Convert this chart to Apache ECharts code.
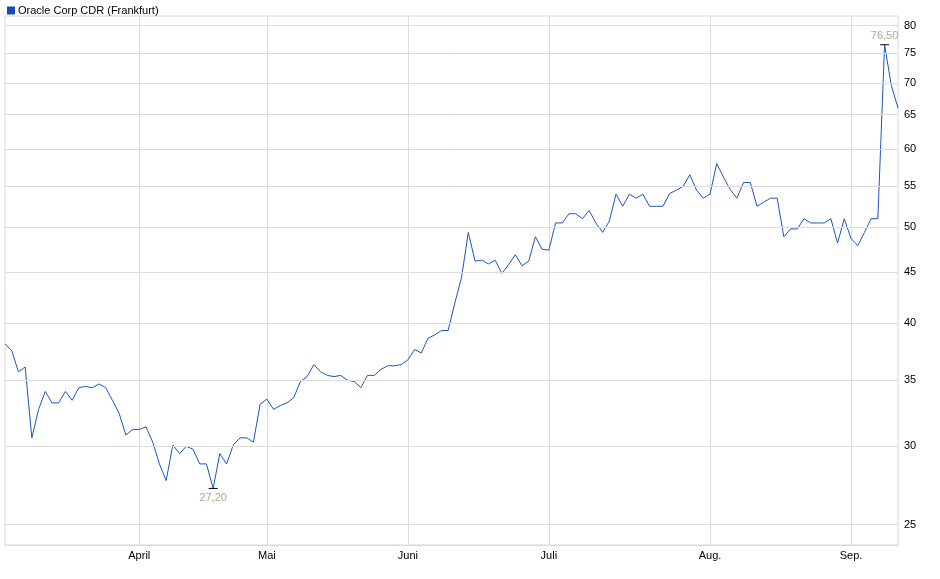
<!DOCTYPE html>
<html><head><meta charset="utf-8">
<script src="https://cdn.jsdelivr.net/npm/echarts@6/dist/echarts.min.js"></script>
<style>html,body{margin:0;padding:0;background:#fff}#c{width:940px;height:579px}</style>
</head><body><div id="c"></div>
<script>
const seriesName = 'Oracle Corp CDR (Frankfurt)';
const prices = [
38.1,37.5,35.7,36.1,30.6,32.7,34.1,33.2,33.2,34.1,33.4,34.4,34.5,34.4,34.7,34.4,33.4,32.4,30.8,31.2,
31.2,31.4,30.3,28.8,27.7,30.1,29.5,30.0,29.8,28.8,28.8,27.2,29.5,28.8,30.1,30.6,30.6,30.3,33.1,33.5,
32.7,33.0,33.2,33.6,34.9,35.3,36.3,35.7,35.4,35.3,35.4,35.0,34.9,34.4,35.4,35.4,35.9,36.2,36.2,36.3,
36.7,37.6,37.3,38.6,38.9,39.3,39.3,41.9,44.5,49.4,46.2,46.3,45.9,46.3,44.9,45.8,46.9,45.7,46.2,48.9,
47.5,47.4,50.5,50.5,51.6,51.6,51.0,52.0,50.5,49.4,50.7,54.0,52.5,54.0,53.5,54.0,52.5,52.5,52.5,54.1,
54.5,55.0,56.5,54.5,53.5,54.0,58.0,56.2,54.6,53.5,55.5,55.5,52.5,53.0,53.5,53.5,48.9,49.8,49.8,51.0,
50.5,50.5,50.5,51.0,48.2,51.0,48.7,47.9,49.4,51.0,51.0,76.5,69.6,66.0
];
const dayIndex = prices.map((_, i) => String(i));
const monthTickIndex = [20, 39, 60, 81, 105, 126];
const monthLabels = ['April', 'Mai', 'Juni', 'Juli', 'Aug.', 'Sep.'];
const yTicks = [25, 30, 35, 40, 45, 50, 55, 60, 65, 70, 75, 80];

const monthMap = {};
monthTickIndex.forEach((k, i) => monthMap[k] = monthLabels[i]);
const fmt = v => v.toFixed(2).replace('.', ',');
const chart = echarts.init(document.getElementById('c'));
chart.setOption({
  animation: false,
  textStyle: {fontFamily: 'Liberation Sans, Arial, sans-serif'},
  legend: {left: 2, top: 0, itemWidth: 8, itemHeight: 8, icon: 'rect', itemGap: 4,
    textStyle: {fontSize: 11, color: '#000', padding: [0,0,0,-2]}, data: [seriesName]},
  grid: {left: 5, right: 42, top: 16, bottom: 34, show: true, borderColor: '#d8d8d8', borderWidth: 1},
  xAxis: {type: 'category', data: dayIndex, boundaryGap: false,
    axisLine: {lineStyle: {color: '#d8d8d8'}}, axisTick: {show: false},
    axisLabel: {interval: (i) => monthMap[i] !== undefined, formatter: (v) => monthMap[+v] || '',
      color: '#000', fontSize: 11, margin: 5},
    splitLine: {show: true, interval: (i) => monthMap[i] !== undefined, lineStyle: {color: '#dcdcdc'}}},
  yAxis: {type: 'log', logBase: 10, min: 23.84, max: 81.8, position: 'right',
    axisLine: {show: false}, axisTick: {show: false}, axisLabel: {show: false}, splitLine: {show: false}},
  series: [{
    name: seriesName, type: 'line', data: prices, showSymbol: false, symbol: 'none',
    lineStyle: {color: '#1a56c0', width: 1}, itemStyle: {color: '#1a4aa8'},
    markLine: {silent: true, symbol: 'none', animation: false,
      lineStyle: {color: '#dcdcdc', type: 'solid', width: 1},
      label: {position: 'end', color: '#000', fontSize: 11, distance: 6, formatter: p => String(p.value)},
      data: yTicks.map(v => ({yAxis: v}))},
    markPoint: {symbol: 'rect', symbolSize: [9, 1], itemStyle: {color: '#000'},
      data: [
        {type: 'min', label: {position: 'bottom', distance: 4, color: '#b5a58f', fontSize: 11, formatter: p => fmt(p.value)}},
        {type: 'max', label: {position: 'top', distance: 3, color: '#b5a58f', fontSize: 11, formatter: p => fmt(p.value)}}
      ]}
  }]
});
</script></body></html>
